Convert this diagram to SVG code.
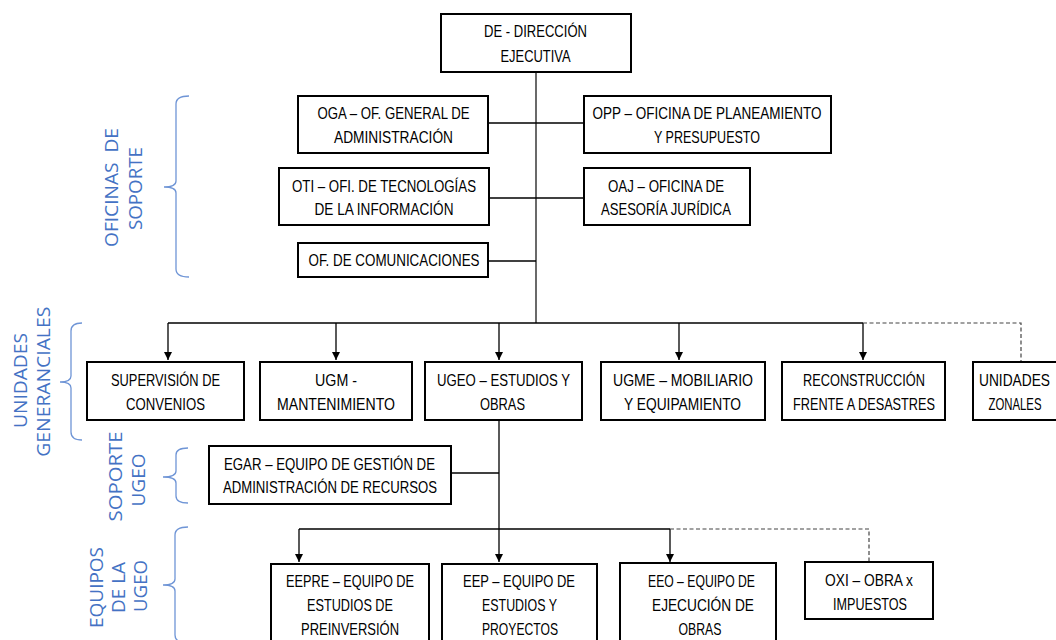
<svg xmlns="http://www.w3.org/2000/svg" width="1056" height="640" viewBox="0 0 1056 640">
<style>
.box{fill:#fff;stroke:#000;stroke-width:2}
.t{font-family:"Liberation Sans",Arial,sans-serif;font-size:17px;fill:#000;text-anchor:middle}
.lb{font-family:"Open Sans","Liberation Sans",sans-serif;font-size:19px;fill:#4472C4;text-anchor:middle;white-space:pre}
.br{fill:none;stroke:#6F95D6;stroke-width:1.3}
.ln{fill:none;stroke:#000;stroke-width:1.3}
.vl{fill:none;stroke:#444;stroke-width:1.6}
.ar{fill:none;stroke:#000;stroke-width:1.3;marker-end:url(#arr)}
.ds{fill:none;stroke:#444;stroke-width:1.2;stroke-dasharray:4 2.5}
</style>
<defs>
<marker id="arr" markerWidth="8" markerHeight="8" refX="8" refY="4" orient="auto" markerUnits="userSpaceOnUse">
<path d="M0,0 L8,4 L0,8 z" fill="#000"/>
</marker>
</defs>
<rect width="1056" height="640" fill="#fff"/>

<g id="labels">
<path class="br" d="M189,96 Q176,96 176,104 L176,181 Q176,187 164,187 Q176,187 176,193 L176,269 Q176,277 189,277"/>
<text class="lb" transform="translate(118.3,187.5) rotate(-90)" textLength="119" lengthAdjust="spacingAndGlyphs">OFICINAS  DE</text>
<text class="lb" transform="translate(141.7,188.5) rotate(-90)" textLength="83" lengthAdjust="spacingAndGlyphs">SOPORTE</text>

<path class="br" d="M82,323 Q71,323 71,331 L71,376 Q71,382 60,382 Q71,382 71,388 L71,432 Q71,440 82,440"/>
<text class="lb" transform="translate(27.3,380.5) rotate(-90)" textLength="95" lengthAdjust="spacingAndGlyphs">UNIDADES</text>
<text class="lb" transform="translate(50,381.7) rotate(-90)" textLength="150" lengthAdjust="spacingAndGlyphs">GENERANCIALES</text>

<path class="br" d="M188,448 Q176,448 176,455 L176,471 Q176,477 163,477 Q176,477 176,483 L176,496 Q176,503 188,503"/>
<text class="lb" transform="translate(121.7,476.5) rotate(-90)" textLength="90" lengthAdjust="spacingAndGlyphs">SOPORTE</text>
<text class="lb" transform="translate(145,480) rotate(-90)" textLength="53" lengthAdjust="spacingAndGlyphs">UGEO</text>

<path class="br" d="M188,527 Q175,527 175,535 L175,579 Q175,585 163,585 Q175,585 175,591 L175,635 Q175,643 188,643"/>
<text class="lb" transform="translate(103.3,587.5) rotate(-90)" textLength="81" lengthAdjust="spacingAndGlyphs">EQUIPOS</text>
<text class="lb" transform="translate(125,587.5) rotate(-90)" textLength="51" lengthAdjust="spacingAndGlyphs">DE LA</text>
<text class="lb" transform="translate(146.7,586) rotate(-90)" textLength="52" lengthAdjust="spacingAndGlyphs">UGEO</text>
</g>

<g id="connectors">
<path class="vl" d="M536,72 V323"/>
<path class="ln" d="M488,123 H584"/>
<path class="ln" d="M489,198 H584"/>
<path class="ln" d="M488,261 H536"/>
<path class="ln" d="M168,323 H863"/>
<path class="ar" d="M168,323 V360"/>
<path class="ar" d="M336,323 V360"/>
<path class="ar" d="M499,323 V360"/>
<path class="ar" d="M679,323 V360"/>
<path class="ar" d="M863,323 V360"/>
<path class="ds" d="M863,323 H1021 V362"/>
<path class="ar" d="M499,420 V562"/>
<path class="ln" d="M451,473 H499"/>
<path class="ln" d="M299,529 H670"/>
<path class="ar" d="M299,529 V562"/>
<path class="ar" d="M670,529 V562"/>
<path class="ds" d="M670,529 H869 V562"/>
</g>

<g id="n-de">
<rect class="box" x="441" y="14" width="190" height="58"/>
<text class="t" x="535.5" y="37" textLength="103" lengthAdjust="spacingAndGlyphs">DE - DIRECCIÓN</text>
<text class="t" x="535.5" y="62" textLength="70" lengthAdjust="spacingAndGlyphs">EJECUTIVA</text>
</g>
<g id="n-oga">
<rect class="box" x="298" y="96" width="190" height="57"/>
<text class="t" x="393.5" y="119" textLength="152" lengthAdjust="spacingAndGlyphs">OGA – OF. GENERAL DE</text>
<text class="t" x="393.5" y="143" textLength="119" lengthAdjust="spacingAndGlyphs">ADMINISTRACIÓN</text>
</g>
<g id="n-opp">
<rect class="box" x="584" y="96" width="247" height="57"/>
<text class="t" x="707" y="119" textLength="229" lengthAdjust="spacingAndGlyphs">OPP – OFICINA DE PLANEAMIENTO</text>
<text class="t" x="707" y="143" textLength="106" lengthAdjust="spacingAndGlyphs">Y PRESUPUESTO</text>
</g>
<g id="n-oti">
<rect class="box" x="279" y="168" width="210" height="57"/>
<text class="t" x="384" y="191.5" textLength="184" lengthAdjust="spacingAndGlyphs">OTI – OFI. DE TECNOLOGÍAS</text>
<text class="t" x="384" y="215" textLength="139" lengthAdjust="spacingAndGlyphs">DE LA INFORMACIÓN</text>
</g>
<g id="n-oaj">
<rect class="box" x="584" y="168" width="166" height="57"/>
<text class="t" x="666" y="191.5" textLength="116" lengthAdjust="spacingAndGlyphs">OAJ – OFICINA DE</text>
<text class="t" x="666" y="215" textLength="130" lengthAdjust="spacingAndGlyphs">ASESORÍA JURÍDICA</text>
</g>
<g id="n-com">
<rect class="box" x="298" y="243" width="190" height="34"/>
<text class="t" x="394" y="266" textLength="171" lengthAdjust="spacingAndGlyphs">OF. DE COMUNICACIONES</text>
</g>

<g id="n-sup">
<rect class="box" x="87" y="362" width="157" height="58"/>
<text class="t" x="165.5" y="386" textLength="109" lengthAdjust="spacingAndGlyphs">SUPERVISIÓN DE</text>
<text class="t" x="165.5" y="410" textLength="79" lengthAdjust="spacingAndGlyphs">CONVENIOS</text>
</g>
<g id="n-ugm">
<rect class="box" x="260" y="362" width="152" height="58"/>
<text class="t" x="336" y="386" textLength="42" lengthAdjust="spacingAndGlyphs">UGM -</text>
<text class="t" x="336" y="410" textLength="118" lengthAdjust="spacingAndGlyphs">MANTENIMIENTO</text>
</g>
<g id="n-ugeo">
<rect class="box" x="425" y="362" width="157" height="58"/>
<text class="t" x="503.5" y="386" textLength="133" lengthAdjust="spacingAndGlyphs">UGEO – ESTUDIOS Y</text>
<text class="t" x="502.5" y="410" textLength="45" lengthAdjust="spacingAndGlyphs">OBRAS</text>
</g>
<g id="n-ugme">
<rect class="box" x="601" y="362" width="164" height="58"/>
<text class="t" x="683" y="386" textLength="140" lengthAdjust="spacingAndGlyphs">UGME – MOBILIARIO</text>
<text class="t" x="682.5" y="410" textLength="117" lengthAdjust="spacingAndGlyphs">Y EQUIPAMIENTO</text>
</g>
<g id="n-recon">
<rect class="box" x="782" y="362" width="163" height="58"/>
<text class="t" x="864" y="386" textLength="122" lengthAdjust="spacingAndGlyphs">RECONSTRUCCIÓN</text>
<text class="t" x="864" y="410" textLength="142" lengthAdjust="spacingAndGlyphs">FRENTE A DESASTRES</text>
</g>
<g id="n-uz">
<rect class="box" x="973" y="362" width="90" height="58"/>
<text class="t" x="1014.5" y="386" textLength="71" lengthAdjust="spacingAndGlyphs">UNIDADES</text>
<text class="t" x="1015" y="410" textLength="53" lengthAdjust="spacingAndGlyphs">ZONALES</text>
</g>

<g id="n-egar">
<rect class="box" x="209" y="446" width="242" height="58"/>
<text class="t" x="329.5" y="470" textLength="211" lengthAdjust="spacingAndGlyphs">EGAR – EQUIPO DE GESTIÓN DE</text>
<text class="t" x="330" y="493" textLength="214" lengthAdjust="spacingAndGlyphs">ADMINISTRACIÓN DE RECURSOS</text>
</g>

<g id="n-eepre">
<rect class="box" x="271" y="564" width="158" height="85"/>
<text class="t" x="350" y="587" textLength="128" lengthAdjust="spacingAndGlyphs">EEPRE – EQUIPO DE</text>
<text class="t" x="350" y="611" textLength="86" lengthAdjust="spacingAndGlyphs">ESTUDIOS DE</text>
<text class="t" x="350" y="635" textLength="98" lengthAdjust="spacingAndGlyphs">PREINVERSIÓN</text>
</g>
<g id="n-eep">
<rect class="box" x="442" y="564" width="155" height="85"/>
<text class="t" x="519" y="587" textLength="112" lengthAdjust="spacingAndGlyphs">EEP – EQUIPO DE</text>
<text class="t" x="519.5" y="611" textLength="75" lengthAdjust="spacingAndGlyphs">ESTUDIOS Y</text>
<text class="t" x="520" y="635" textLength="76" lengthAdjust="spacingAndGlyphs">PROYECTOS</text>
</g>
<g id="n-eeo">
<rect class="box" x="620" y="563" width="156" height="86"/>
<text class="t" x="701.5" y="587" textLength="107" lengthAdjust="spacingAndGlyphs">EEO – EQUIPO DE</text>
<text class="t" x="703" y="611" textLength="102" lengthAdjust="spacingAndGlyphs">EJECUCIÓN DE</text>
<text class="t" x="700" y="635" textLength="43" lengthAdjust="spacingAndGlyphs">OBRAS</text>
</g>
<g id="n-oxi">
<rect class="box" x="805" y="562" width="128" height="57"/>
<text class="t" x="869" y="586" textLength="88" lengthAdjust="spacingAndGlyphs">OXI – OBRA x</text>
<text class="t" x="870" y="610" textLength="74" lengthAdjust="spacingAndGlyphs">IMPUESTOS</text>
</g>
</svg>
